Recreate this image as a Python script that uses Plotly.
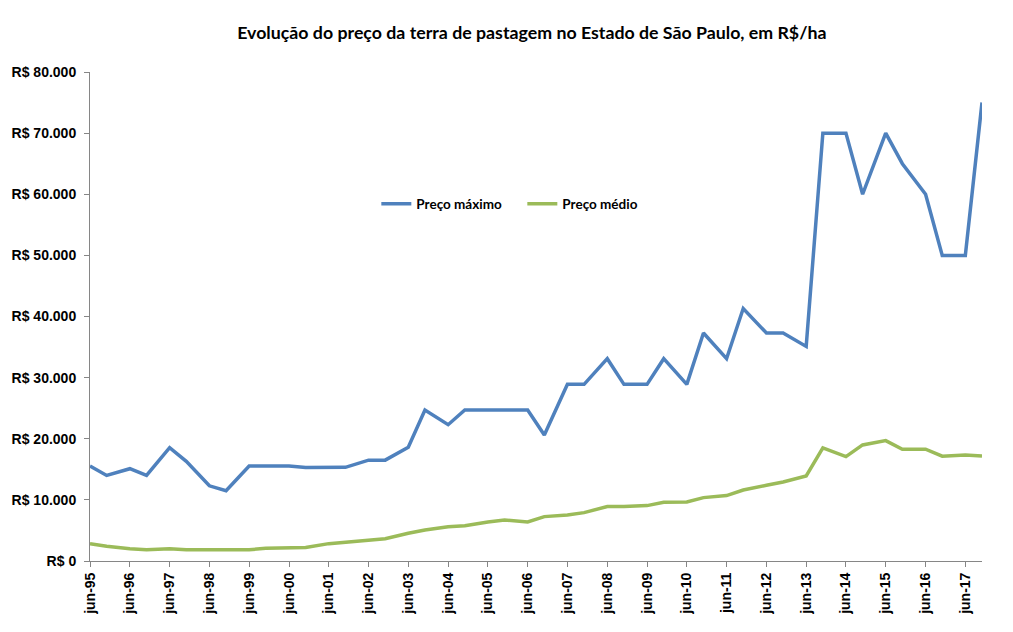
import plotly.graph_objects as go

# Survey dates: June and November of each year, 1995-2017
dates = [f"{y}-{m:02d}-01" for y in range(1995, 2018) for m in (6, 11)]

preco_maximo = [15550, 14000, 15100, 14000, 18550, 16300, 12300, 11500, 15550, 15550,
                15550, 15300, 15300, 15330, 16500, 16500, 18600, 24700, 22300, 24700,
                24700, 24700, 24700, 20600, 28900, 28900, 33100, 28900, 28900, 33100,
                28900, 37300, 33100, 41300, 37300, 37300, 35100, 70000, 70000, 60000,
                70000, 65000, 60000, 50000, 50000, 75000]

preco_medio = [2840, 2400, 2000, 1850, 2000, 1850, 1850, 1850, 1850, 2070,
               2180, 2200, 2840, 3110, 3380, 3650, 4530, 5080, 5620, 5780,
               6380, 6710, 6380, 7260, 7530, 7910, 8900, 8900, 9060, 9600,
               9660, 10370, 10700, 11620, 12390, 12930, 13920, 18500, 17080, 18990,
               19700, 18280, 18280, 17140, 17350, 17190]

x_tick_vals = [f"{y}-06-01" for y in range(1995, 2018)]
x_tick_text = ["jun-95", "jun-96", "jun-97", "jun-98", "jun-99", "jun-00", "jun-01", "jun-02",
               "jun-03", "jun-04", "jun-05", "jun-06", "jun-07", "jun-08", "jun-09", "jun-10",
               "jun-11", "jun-12", "jun-13", "jun-14", "jun-15", "jun-16", "jun-17"]

y_tick_vals = [0, 10000, 20000, 30000, 40000, 50000, 60000, 70000, 80000]
y_tick_text = ["R$ 0", "R$ 10.000", "R$ 20.000", "R$ 30.000", "R$ 40.000",
               "R$ 50.000", "R$ 60.000", "R$ 70.000", "R$ 80.000"]

BLUE = "#4F81BD"
GREEN = "#9BBB59"

fig = go.Figure()
fig.add_trace(go.Scatter(x=dates, y=preco_maximo, mode="lines", name="<b>Preço máximo</b>",
                         line=dict(color=BLUE, width=3.5)))
fig.add_trace(go.Scatter(x=dates, y=preco_medio, mode="lines", name="<b>Preço médio</b>",
                         line=dict(color=GREEN, width=3.5)))

fig.update_layout(
    width=1013, height=632,
    margin=dict(l=90, r=31, t=72, b=71),
    paper_bgcolor="white", plot_bgcolor="white",
    title=dict(text="<b>Evolução do preço da terra de pastagem no Estado de São Paulo, em R$/ha</b>",
               x=0.525, xanchor="center", y=0.948, yanchor="middle",
               font=dict(family="Lato", size=17.75, color="black")),
    legend=dict(orientation="h", x=0.321, xanchor="left", y=0.730, yanchor="middle",
                font=dict(family="Lato", size=13.5, color="black"),
                bgcolor="rgba(0,0,0,0)", itemwidth=30,
                entrywidth=101, entrywidthmode="pixels"),
    showlegend=True,
)

fig.update_xaxes(
    type="date", range=["1995-06-01", "2017-11-01"],
    tickvals=x_tick_vals, ticktext=x_tick_text, tickangle=-90,
    showgrid=False, zeroline=False,
    showline=True, linecolor="#868686", linewidth=1,
    ticks="outside", ticklen=5, tickcolor="#868686",
    tickfont=dict(family="Liberation Sans", size=14, color="black", weight="bold"),
)
fig.update_yaxes(
    range=[0, 80000], tickvals=y_tick_vals, ticktext=y_tick_text,
    showgrid=False, zeroline=False,
    showline=True, linecolor="#868686", linewidth=1,
    ticks="outside", ticklen=5, tickcolor="#868686", ticklabelstandoff=5,
    tickfont=dict(family="Liberation Sans", size=14, color="black", weight="bold"),
)

fig.write_html("out.html")
